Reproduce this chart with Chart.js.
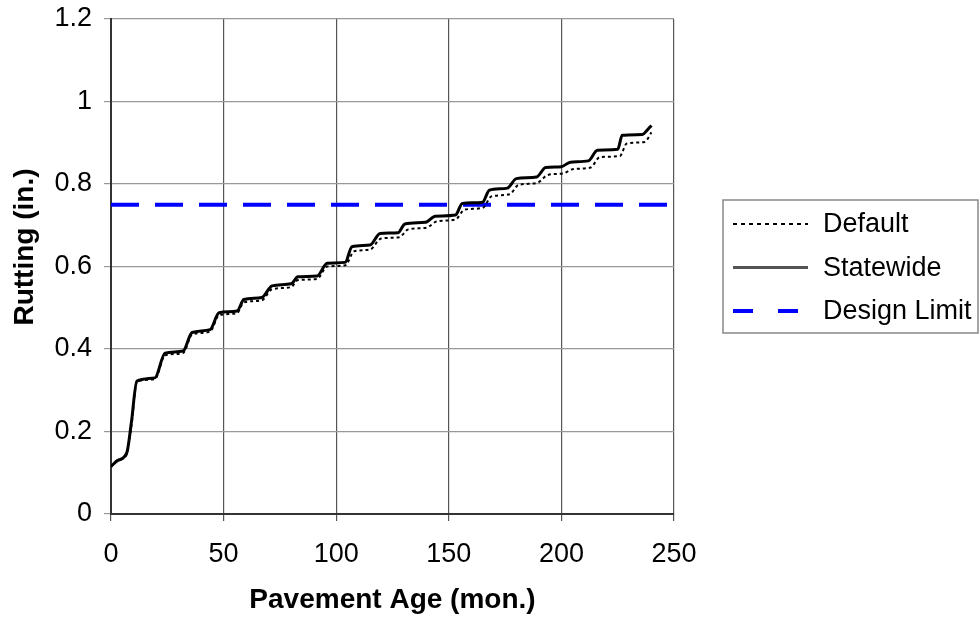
<!DOCTYPE html>
<html>
<head>
<meta charset="utf-8">
<script src="https://cdn.jsdelivr.net/npm/chart.js@4.4.1/dist/chart.umd.min.js"></script>
<style>
  body { margin: 0; background: #fff; }
</style>
</head>
<body>
<canvas id="myChart" width="980" height="622"></canvas>
<script>
// rutting vs pavement age
const statewideMonths = [0, 3, 7, 9, 11.5, 19.5, 24, 32, 36, 44, 48, 56, 59, 67, 71.5, 80, 83, 91.5, 96, 104, 107, 115, 119.5, 127.5, 130.5, 139.5, 144, 153, 156, 165, 168, 176, 180, 189, 193, 200, 204, 212, 216, 225, 227, 236, 238, 240];
const statewideRut = [0.115, 0.13, 0.148, 0.22, 0.322, 0.33, 0.39, 0.395, 0.44, 0.447, 0.488, 0.492, 0.52, 0.525, 0.553, 0.558, 0.575, 0.577, 0.608, 0.61, 0.648, 0.652, 0.68, 0.682, 0.703, 0.707, 0.722, 0.725, 0.753, 0.756, 0.785, 0.79, 0.813, 0.817, 0.84, 0.842, 0.853, 0.856, 0.882, 0.884, 0.918, 0.92, 0.93, 0.942];

const defaultMonths = [0, 3, 7, 9, 11.5, 19.5, 24, 32, 36, 44, 48, 56, 59, 67, 71.5, 80, 83, 91.5, 96, 104, 108, 115, 120, 128, 132, 140, 145, 153, 157, 165, 169, 177, 181, 189, 194, 201, 205, 213, 217, 226, 229, 237, 240];
const defaultRut = [0.115, 0.13, 0.145, 0.21, 0.32, 0.327, 0.385, 0.39, 0.435, 0.442, 0.482, 0.487, 0.513, 0.518, 0.545, 0.55, 0.567, 0.57, 0.6, 0.603, 0.637, 0.641, 0.668, 0.671, 0.69, 0.694, 0.71, 0.714, 0.738, 0.742, 0.77, 0.775, 0.798, 0.802, 0.822, 0.826, 0.836, 0.84, 0.865, 0.868, 0.898, 0.902, 0.925];

const limitMonths = [0, 250];
const limitRut = [0.75, 0.75];

const xTickValues = [0, 50, 100, 150, 200, 250];
const yTickValues = [0, 0.2, 0.4, 0.6, 0.8, 1, 1.2];

const toPoints = (xs, ys) => xs.map((x, i) => ({ x: x, y: ys[i] }));

const tickFont = { family: "'Liberation Sans', Arial, sans-serif", size: 27 };
const titleFont = { family: "'Liberation Sans', Arial, sans-serif", size: 28, weight: "bold" };

// legend box on the right, drawn by hand like the original
const boxLegend = {
  id: "boxLegend",
  afterDraw(chart) {
    const ctx = chart.ctx;
    const items = [
      { text: "Default", color: "#000", width: 2, dash: [4, 4] },
      { text: "Statewide", color: "#555", width: 3, dash: [] },
      { text: "Design Limit", color: "#0000ff", width: 4, dash: [20, 25] },
    ];
    ctx.save();
    ctx.strokeStyle = "#888";
    ctx.lineWidth = 1.5;
    ctx.strokeRect(723, 200, 255, 133);
    ctx.font = "27px 'Liberation Sans', Arial, sans-serif";
    ctx.textBaseline = "middle";
    ctx.fillStyle = "#000";
    items.forEach((it, i) => {
      const y = 224 + i * 43.5;
      ctx.beginPath();
      ctx.strokeStyle = it.color;
      ctx.lineWidth = it.width;
      ctx.setLineDash(it.dash);
      ctx.moveTo(733, y);
      ctx.lineTo(808, y);
      ctx.stroke();
      ctx.setLineDash([]);
      ctx.fillText(it.text, 823, y + 1);
    });
    // y axis title
    ctx.translate(25, 247);
    ctx.rotate(-Math.PI / 2);
    ctx.textAlign = "center";
    ctx.font = "bold 28px 'Liberation Sans', Arial, sans-serif";
    ctx.fillText("Rutting (in.)", 0, 0);
    ctx.restore();
  },
};

new Chart("myChart", {
  type: "line",
  data: {
    datasets: [
      {
        label: "Statewide",
        data: toPoints(statewideMonths, statewideRut),
        borderColor: "#000",
        borderWidth: 3,
        pointRadius: 0,
        cubicInterpolationMode: "monotone",
        order: 1,
      },
      {
        label: "Default",
        data: toPoints(defaultMonths, defaultRut),
        borderColor: "#000",
        borderWidth: 2,
        borderDash: [3, 3],
        pointRadius: 0,
        cubicInterpolationMode: "monotone",
        order: 2,
      },
      {
        label: "Design Limit",
        data: toPoints(limitMonths, limitRut),
        borderColor: "#0000ff",
        borderWidth: 4,
        borderDash: [28, 16],
        pointRadius: 0,
        order: 3,
      },
    ],
  },
  options: {
    responsive: false,
    animation: false,
    layout: { padding: { top: 19, right: 306, left: 0, bottom: 0 } },
    plugins: {
      legend: { display: false },
      tooltip: { enabled: false },
    },
    scales: {
      x: {
        type: "linear",
        min: 0,
        max: 250,
        afterBuildTicks: (scale) => { scale.ticks = xTickValues.map((v) => ({ value: v })); },
        afterFit: (scale) => { scale.height = 108; scale.paddingLeft = 0; scale.paddingRight = 0; },
        ticks: { font: tickFont, color: "#000", padding: 17, maxRotation: 0 },
        grid: { color: "#555", tickLength: 7, lineWidth: 1.2 },
        border: { color: "#333", width: 2 },
        title: {
          display: true,
          text: "Pavement Age (mon.)",
          font: titleFont,
          color: "#000",
          padding: { top: 0, bottom: 5 },
        },
      },
      y: {
        min: 0,
        max: 1.2,
        afterBuildTicks: (scale) => { scale.ticks = yTickValues.map((v) => ({ value: v })); },
        afterFit: (scale) => { scale.width = 111; scale.paddingTop = 0; scale.paddingBottom = 0; },
        ticks: {
          font: tickFont,
          color: "#000",
          padding: 12,
          callback: (v) => String(Math.round(v * 10) / 10),
        },
        grid: { color: "#999", tickLength: 7, lineWidth: 1.2 },
        border: { color: "#333", width: 2 },
      },
    },
  },
  plugins: [boxLegend],
});
</script>
</body>
</html>
